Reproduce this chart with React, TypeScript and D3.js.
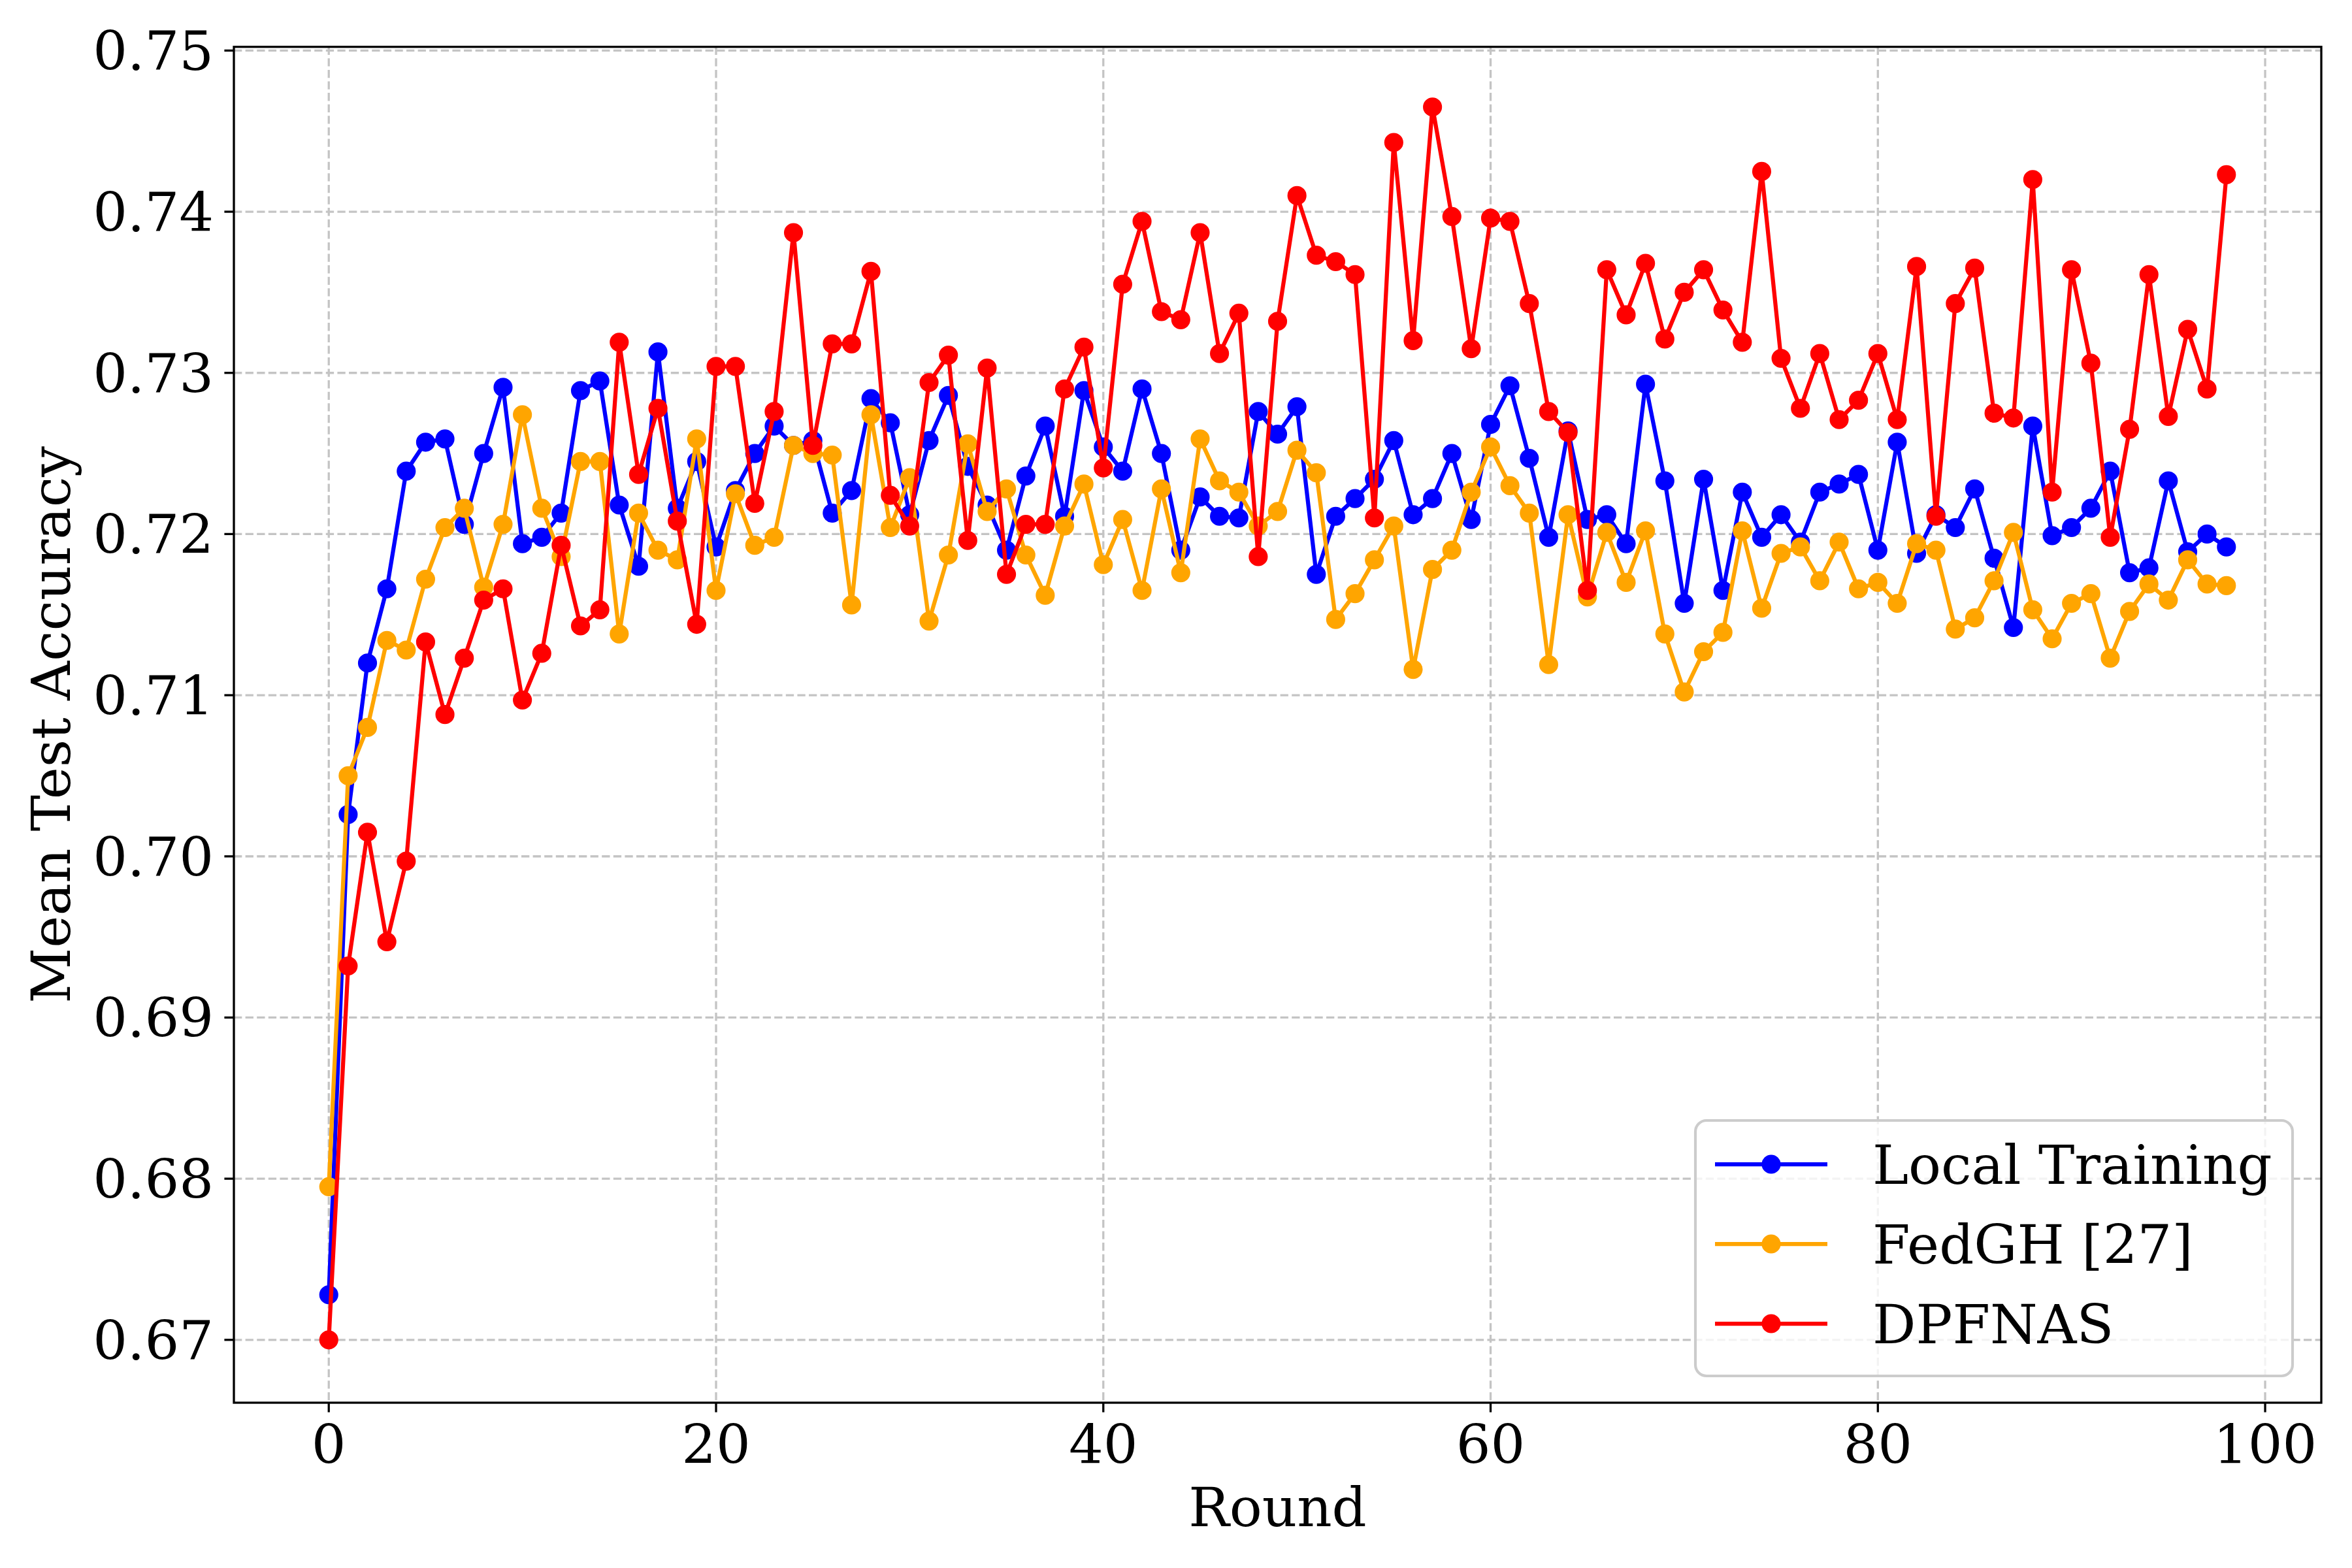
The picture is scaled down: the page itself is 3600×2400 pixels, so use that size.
import React from "react";
import * as d3 from "d3";

const localTraining = [
  0.6728, 0.7026, 0.712, 0.7166, 0.7239, 0.7257, 0.7259, 0.7206, 0.725, 0.7291,
  0.7194, 0.7198, 0.7213, 0.7289, 0.7295, 0.7218, 0.718, 0.7313, 0.7216, 0.7245,
  0.7192, 0.7227, 0.725, 0.7267, 0.7255, 0.7258, 0.7213, 0.7227, 0.7284, 0.7269,
  0.7212, 0.7258, 0.7286, 0.7242, 0.7218, 0.719, 0.7236, 0.7267, 0.7211, 0.7289,
  0.7254, 0.7239, 0.729, 0.725, 0.719, 0.7223, 0.7211, 0.721, 0.7276, 0.7262,
  0.7279, 0.7175, 0.7211, 0.7222, 0.7234, 0.7258, 0.7212, 0.7222, 0.725, 0.7209,
  0.7268, 0.7292, 0.7247, 0.7198, 0.7264, 0.7209, 0.7212, 0.7194, 0.7293, 0.7233,
  0.7157, 0.7234, 0.7165, 0.7226, 0.7198, 0.7212, 0.7195, 0.7226, 0.7231, 0.7237,
  0.719, 0.7257, 0.7188, 0.7212, 0.7204, 0.7228, 0.7185, 0.7142, 0.7267, 0.7199,
  0.7204, 0.7216, 0.7239, 0.7176, 0.7179, 0.7233, 0.7189, 0.72, 0.7192,
];

const fedGH = [
  0.6795, 0.705, 0.708, 0.7134, 0.7128, 0.7172, 0.7204, 0.7216, 0.7167, 0.7206,
  0.7274, 0.7216, 0.7186, 0.7245, 0.7245, 0.7138, 0.7213, 0.719, 0.7184, 0.7259,
  0.7165, 0.7225, 0.7193, 0.7198, 0.7255, 0.725, 0.7249, 0.7156, 0.7274, 0.7204,
  0.7235, 0.7146, 0.7187, 0.7256, 0.7214, 0.7228, 0.7187, 0.7162, 0.7205, 0.7231,
  0.7181, 0.7209, 0.7165, 0.7228, 0.7176, 0.7259, 0.7233, 0.7226, 0.7205, 0.7214,
  0.7252, 0.7238, 0.7147, 0.7163, 0.7184, 0.7205, 0.7116, 0.7178, 0.719, 0.7226,
  0.7254, 0.723, 0.7213, 0.7119, 0.7212, 0.7161, 0.7201, 0.717, 0.7202, 0.7138,
  0.7102, 0.7127, 0.7139, 0.7202, 0.7154, 0.7188, 0.7192, 0.7171, 0.7195, 0.7166,
  0.717, 0.7157, 0.7194, 0.719, 0.7141, 0.7148, 0.7171, 0.7201, 0.7153, 0.7135,
  0.7157, 0.7163, 0.7123, 0.7152, 0.7169, 0.7159, 0.7184, 0.7169, 0.7168,
];

const dpfnas = [
  0.67, 0.6932, 0.7015, 0.6947, 0.6997, 0.7133, 0.7088, 0.7123, 0.7159, 0.7166,
  0.7097, 0.7126, 0.7193, 0.7143, 0.7153, 0.7319, 0.7237, 0.7278, 0.7208, 0.7144,
  0.7304, 0.7304, 0.7219, 0.7276, 0.7387, 0.7255, 0.7318, 0.7318, 0.7363, 0.7224,
  0.7205, 0.7294, 0.7311, 0.7196, 0.7303, 0.7175, 0.7206, 0.7206, 0.729, 0.7316,
  0.7241, 0.7355, 0.7394, 0.7338, 0.7333, 0.7387, 0.7312, 0.7337, 0.7186, 0.7332,
  0.741, 0.7373, 0.7369, 0.7361, 0.721, 0.7443, 0.732, 0.7465, 0.7397, 0.7315,
  0.7396, 0.7394, 0.7343, 0.7276, 0.7263, 0.7165, 0.7364, 0.7336, 0.7368, 0.7321,
  0.735, 0.7364, 0.7339, 0.7319, 0.7425, 0.7309, 0.7278, 0.7312, 0.7271, 0.7283,
  0.7312, 0.7271, 0.7366, 0.7211, 0.7343, 0.7365, 0.7275, 0.7272, 0.742, 0.7226,
  0.7364, 0.7306, 0.7198, 0.7265, 0.7361, 0.7273, 0.7327, 0.729, 0.7423,
];

const seriesNames = ["Local Training", "FedGH [27]", "DPFNAS"];
const seriesColors = ["#0000ff", "#ffa500", "#ff0000"];
const xTicks = [0, 20, 40, 60, 80, 100];
const yTicks = [0.67, 0.68, 0.69, 0.7, 0.71, 0.72, 0.73, 0.74, 0.75];

const W = 3600;
const H = 2400;
const L = 358;
const R = 3553;
const T = 71.7;
const B = 2147;
const FONT = "DejaVu Serif";
const FS = 83;

export default function App() {
  const allSeries = [localTraining, fedGH, dpfnas];
  const x = d3.scaleLinear().domain([-4.9, 102.9]).range([L, R]);
  const y = d3.scaleLinear().domain([0.6661, 0.75023]).range([B, T]);
  const line = d3
    .line<number>()
    .x((_, i) => x(i))
    .y((d) => y(d));

  const legX = 2595;
  const legY = 1715;
  const legW = 914;
  const legH = 391;
  const rowY = [1782, 1904, 2026];

  return (
    <svg
      width={W}
      height={H}
      viewBox={`0 0 ${W} ${H}`}
      style={{ position: "absolute", left: 0, top: 0, background: "#fff" }}
      fontFamily={FONT}
    >
      <rect x={0} y={0} width={W} height={H} fill="#fff" />
      <defs>
        <clipPath id="plotclip">
          <rect x={L} y={T} width={R - L} height={B - T} />
        </clipPath>
      </defs>
      {/* grid */}
      <g stroke="#c4c4c4" strokeWidth={3.3} strokeDasharray="12.3 5.3">
        {xTicks.map((t) => (
          <line key={"gx" + t} x1={x(t)} x2={x(t)} y1={T} y2={B} />
        ))}
        {yTicks.map((t) => (
          <line key={"gy" + t} x1={L} x2={R} y1={y(t)} y2={y(t)} />
        ))}
      </g>
      {/* series */}
      <g clipPath="url(#plotclip)">
        {allSeries.map((s, si) => (
          <g key={"s" + si}>
            <path
              d={line(s) || ""}
              fill="none"
              stroke={seriesColors[si]}
              strokeWidth={6.25}
              strokeLinejoin="round"
              strokeLinecap="square"
            />
            {s.map((v, i) => (
              <circle
                key={i}
                cx={x(i)}
                cy={y(v)}
                r={12.5}
                fill={seriesColors[si]}
                stroke={seriesColors[si]}
                strokeWidth={4.17}
              />
            ))}
          </g>
        ))}
      </g>
      {/* spines */}
      <rect
        x={L}
        y={T}
        width={R - L}
        height={B - T}
        fill="none"
        stroke="#000"
        strokeWidth={3.3}
      />
      {/* ticks */}
      <g stroke="#000" strokeWidth={3.3}>
        {xTicks.map((t) => (
          <line key={"tx" + t} x1={x(t)} x2={x(t)} y1={B} y2={B + 14.6} />
        ))}
        {yTicks.map((t) => (
          <line key={"ty" + t} x1={L - 14.6} x2={L} y1={y(t)} y2={y(t)} />
        ))}
      </g>
      <g fontSize={FS} fill="#000">
        {xTicks.map((t) => (
          <text key={"lx" + t} x={x(t)} y={2240} textAnchor="middle">
            {t}
          </text>
        ))}
        {yTicks.map((t) => (
          <text key={"ly" + t} x={327} y={y(t) + 30} textAnchor="end">
            {t.toFixed(2)}
          </text>
        ))}
        <text x={(L + R) / 2} y={2336} textAnchor="middle">
          Round
        </text>
        <text
          transform={`translate(107, ${(T + B) / 2}) rotate(-90)`}
          textAnchor="middle"
        >
          Mean Test Accuracy
        </text>
      </g>
      {/* legend */}
      <rect
        x={legX}
        y={legY}
        width={legW}
        height={legH}
        rx={17}
        ry={17}
        fill="#ffffff"
        fillOpacity={0.8}
        stroke="#cccccc"
        strokeWidth={4.17}
      />
      {seriesNames.map((name, i) => (
        <g key={"leg" + i}>
          <line
            x1={2625}
            x2={2797}
            y1={rowY[i]}
            y2={rowY[i]}
            stroke={seriesColors[i]}
            strokeWidth={6.25}
          />
          <circle
            cx={2711}
            cy={rowY[i]}
            r={12.5}
            fill={seriesColors[i]}
            stroke={seriesColors[i]}
            strokeWidth={4.17}
          />
          <text x={2866} y={rowY[i] + 30} fontSize={FS} fill="#000">
            {name}
          </text>
        </g>
      ))}
    </svg>
  );
}
